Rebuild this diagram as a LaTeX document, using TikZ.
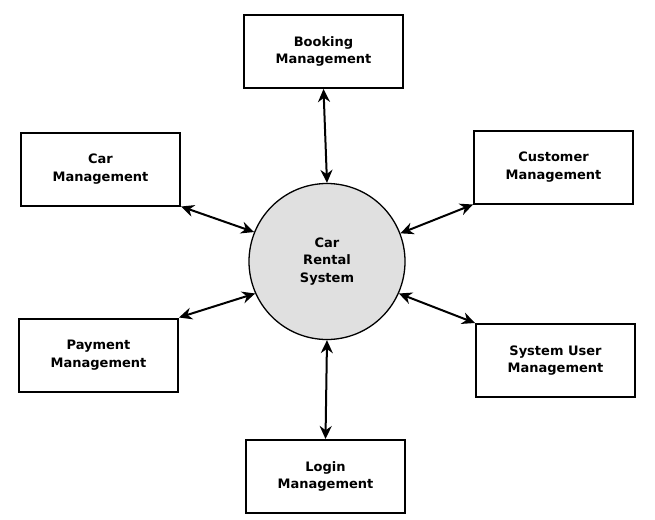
\documentclass[tikz,border=0pt]{standalone}
\usepackage{fontspec}
\setmainfont{DejaVu Sans}
\definecolor{SysGray}{RGB}{224, 224, 224}
\usetikzlibrary{arrows.meta, positioning}

\begin{document}
\begin{tikzpicture}[x=1pt, y=-1pt,
    module/.style={draw, line width=2pt, minimum width=159pt, minimum height=73pt,
                   align=center, inner sep=0pt, font=\fontsize{13}{17.5}\selectfont\bfseries},
    flow/.style={line width=2pt, {Stealth[length=13pt, width=12pt]}-{Stealth[length=13pt, width=12pt]}}]
        \useasboundingbox (0,0) rectangle (655,519);
        % centre process
        \node[circle, draw, line width=1.3pt, fill=SysGray, minimum size=156pt, inner sep=0pt,
              align=center, font=\fontsize{13}{17.5}\selectfont\bfseries]
             (sys) at (327,261.5) {Car\\Rental\\System};
        % modules around it
        \node[module] (book)  at (323.5,51.5)  {Booking\\Management};
        \node[module] (car)   at (100.5,169)   {Car\\Management};
        \node[module] (cust)  at (553.5,167)   {Customer\\Management};
        \node[module] (pay)   at (98.5,355)    {Payment\\Management};
        \node[module] (suser) at (555.5,360.5) {System User\\Management};
        \node[module] (login) at (325.5,476.5) {Login\\Management};
        % data flows
        \draw[flow] (book.south)     -- (sys.north);
        \draw[flow] (car.south east) -- (sys.158);
        \draw[flow] (cust.south west) -- (sys.21);
        \draw[flow] (pay.north east) -- (sys.204);
        \draw[flow] (suser.north west) -- (sys.336);
        \draw[flow] (sys.south)      -- (login.north);
      \end{tikzpicture}
\end{document}
